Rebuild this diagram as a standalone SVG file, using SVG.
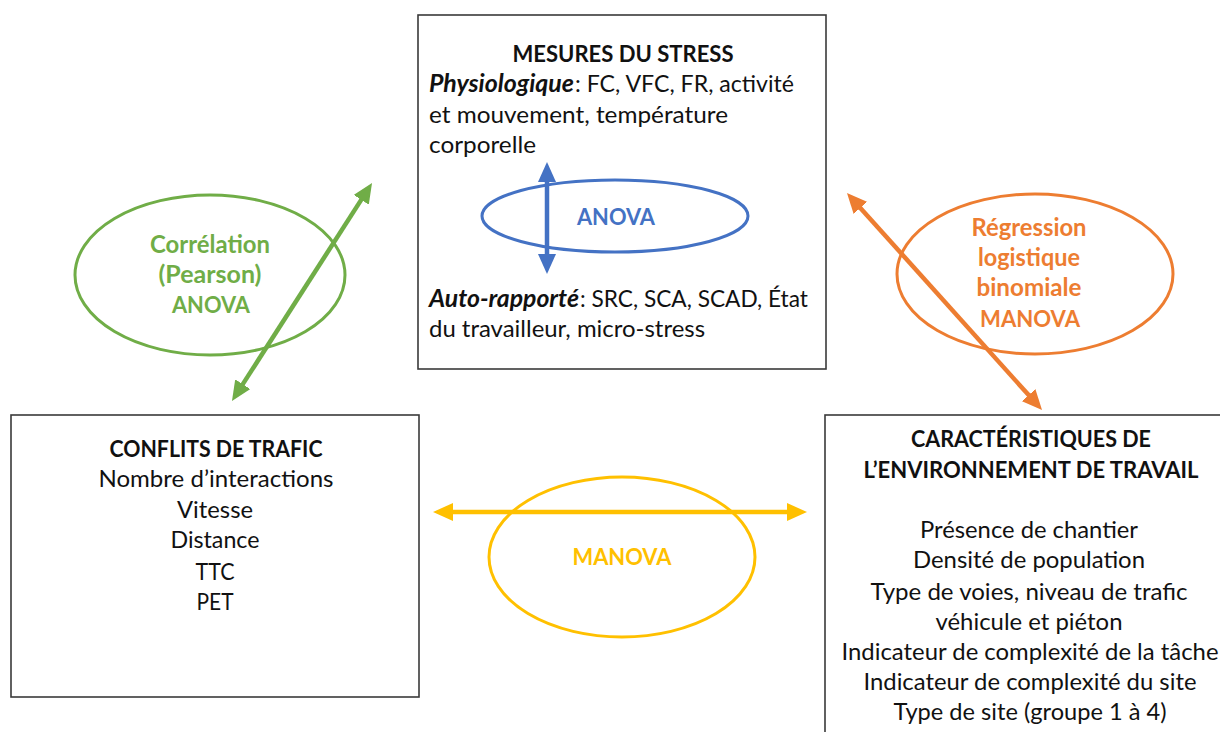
<svg xmlns="http://www.w3.org/2000/svg" width="1220" height="732" viewBox="0 0 1220 732">
  <style>
    text { font-family: Lato, "Open Sans", "Liberation Sans", sans-serif; font-size: 23.5px; fill: #111; }
    .c { text-anchor: middle; }
    .b { font-weight: bold; font-size: 22px; }
    .bi { font-weight: bold; font-style: italic; font-size: 24px; }
    .box { fill: #fff; stroke: #3a3a3a; stroke-width: 1.6; }
    .ell { fill: none; stroke-width: 3; }
    .arr { fill: none; stroke-width: 4.5; }
    .green { stroke: #70AD47; }
    .orange { stroke: #ED7D31; }
    .yellow { stroke: #FFC000; }
    .blue { stroke: #4472C4; }
    .tg { fill: #70AD47; font-weight: bold; font-size: 24px; }
    .to { fill: #ED7D31; font-weight: bold; font-size: 24px; }
    .ty { fill: #FFC000; font-weight: bold; font-size: 22px; }
    .tb { fill: #4472C4; font-weight: bold; font-size: 22px; }
    .caps { font-size: 22px; }
  </style>
  <defs>
    <marker id="hGreen" viewBox="0 0 20 18" refX="2" refY="9" markerWidth="20" markerHeight="18" markerUnits="userSpaceOnUse" orient="auto-start-reverse">
      <path d="M0,0 L20,9 L0,18 z" fill="#70AD47"/>
    </marker>
    <marker id="hOrange" viewBox="0 0 20 18" refX="2" refY="9" markerWidth="20" markerHeight="18" markerUnits="userSpaceOnUse" orient="auto-start-reverse">
      <path d="M0,0 L20,9 L0,18 z" fill="#ED7D31"/>
    </marker>
    <marker id="hYellow" viewBox="0 0 20 18" refX="2" refY="9" markerWidth="20" markerHeight="18" markerUnits="userSpaceOnUse" orient="auto-start-reverse">
      <path d="M0,0 L20,9 L0,18 z" fill="#FFC000"/>
    </marker>
    <marker id="hBlue" viewBox="0 0 20 18" refX="2" refY="9" markerWidth="20" markerHeight="18" markerUnits="userSpaceOnUse" orient="auto-start-reverse">
      <path d="M0,0 L20,9 L0,18 z" fill="#4472C4"/>
    </marker>
  </defs>

  <rect width="1220" height="732" fill="#fff"/>

  <!-- Stress measures -->
  <g id="node-stress">
    <rect class="box" x="418" y="15" width="408" height="354"/>
    <text class="c b" x="623" y="62" textLength="221" lengthAdjust="spacingAndGlyphs">MESURES DU STRESS</text>
    <text class="bi" x="429" y="92" textLength="145" lengthAdjust="spacingAndGlyphs">Physiologique</text>
    <text x="575" y="92" textLength="219" lengthAdjust="spacingAndGlyphs">: FC, VFC, FR, activité</text>
    <text x="429" y="123" textLength="299" lengthAdjust="spacingAndGlyphs">et mouvement, température</text>
    <text x="429" y="153" textLength="107" lengthAdjust="spacingAndGlyphs">corporelle</text>
    <text class="bi" x="429" y="307" textLength="150" lengthAdjust="spacingAndGlyphs">Auto-rapporté</text>
    <text x="580" y="307" textLength="228" lengthAdjust="spacingAndGlyphs">: SRC, SCA, SCAD, État</text>
    <text x="429" y="337" textLength="276" lengthAdjust="spacingAndGlyphs">du travailleur, micro-stress</text>
  </g>

  <!-- Traffic conflicts -->
  <g id="node-conflits">
    <rect class="box" x="11" y="415" width="408" height="282"/>
    <text class="c b" x="216" y="457" textLength="213" lengthAdjust="spacingAndGlyphs">CONFLITS DE TRAFIC</text>
    <text class="c" x="216" y="487" textLength="235" lengthAdjust="spacingAndGlyphs">Nombre d’interactions</text>
    <text class="c" x="215" y="518" textLength="76" lengthAdjust="spacingAndGlyphs">Vitesse</text>
    <text class="c" x="215" y="548" textLength="89" lengthAdjust="spacingAndGlyphs">Distance</text>
    <text class="c" x="215" y="580" textLength="39" lengthAdjust="spacingAndGlyphs">TTC</text>
    <text class="c" x="215" y="610" textLength="37" lengthAdjust="spacingAndGlyphs">PET</text>
  </g>

  <!-- Work environment -->
  <g id="node-environnement">
    <rect class="box" x="825" y="415" width="420" height="340"/>
    <text class="c b" x="1031" y="447" textLength="240" lengthAdjust="spacingAndGlyphs">CARACTÉRISTIQUES DE</text>
    <text class="c b" x="1031" y="478" textLength="335" lengthAdjust="spacingAndGlyphs">L’ENVIRONNEMENT DE TRAVAIL</text>
    <text class="c" x="1029" y="538" textLength="218" lengthAdjust="spacingAndGlyphs">Présence de chantier</text>
    <text class="c" x="1029" y="568" textLength="232" lengthAdjust="spacingAndGlyphs">Densité de population</text>
    <text class="c" x="1029" y="600" textLength="317" lengthAdjust="spacingAndGlyphs">Type de voies, niveau de trafic</text>
    <text class="c" x="1029" y="630" textLength="187" lengthAdjust="spacingAndGlyphs">véhicule et piéton</text>
    <text class="c" x="1030" y="660" textLength="377" lengthAdjust="spacingAndGlyphs">Indicateur de complexité de la tâche</text>
    <text class="c" x="1030" y="690" textLength="333" lengthAdjust="spacingAndGlyphs">Indicateur de complexité du site</text>
    <text class="c" x="1030" y="720" textLength="273" lengthAdjust="spacingAndGlyphs">Type de site (groupe 1 à 4)</text>
  </g>

  <!-- Statistical methods -->
  <g id="node-anova">
    <ellipse class="ell blue" cx="615" cy="216" rx="133" ry="36"/>
    <text class="c tb" x="616" y="225" textLength="78" lengthAdjust="spacingAndGlyphs">ANOVA</text>
  </g>
  <g id="node-correlation">
    <ellipse class="ell green" cx="210" cy="275" rx="135" ry="80"/>
    <text class="c tg" x="210" y="253" textLength="120" lengthAdjust="spacingAndGlyphs">Corrélation</text>
    <text class="c tg" x="210" y="283" textLength="103" lengthAdjust="spacingAndGlyphs">(Pearson)</text>
    <text class="c tg caps" x="211" y="313" textLength="78" lengthAdjust="spacingAndGlyphs">ANOVA</text>
  </g>
  <g id="node-regression">
    <ellipse class="ell orange" cx="1035" cy="274" rx="138" ry="80"/>
    <text class="c to" x="1029" y="236" textLength="115" lengthAdjust="spacingAndGlyphs">Régression</text>
    <text class="c to" x="1029" y="266" textLength="102" lengthAdjust="spacingAndGlyphs">logistique</text>
    <text class="c to" x="1029" y="296" textLength="105" lengthAdjust="spacingAndGlyphs">binomiale</text>
    <text class="c to caps" x="1030" y="327" textLength="100" lengthAdjust="spacingAndGlyphs">MANOVA</text>
  </g>
  <g id="node-manova">
    <ellipse class="ell yellow" cx="622" cy="557" rx="133" ry="80"/>
    <text class="c ty" x="622" y="565" textLength="99" lengthAdjust="spacingAndGlyphs">MANOVA</text>
  </g>

  <!-- Double-headed connectors -->
  <g id="connectors">
    <line class="arr blue" x1="547" y1="180" x2="547" y2="256" marker-start="url(#hBlue)" marker-end="url(#hBlue)"/>
    <line class="arr green" x1="241.7" y1="385.9" x2="362.3" y2="198.1" marker-start="url(#hGreen)" marker-end="url(#hGreen)"/>
    <line class="arr orange" x1="859" y1="206.4" x2="1030" y2="396.6" marker-start="url(#hOrange)" marker-end="url(#hOrange)"/>
    <line class="arr yellow" x1="451" y1="512" x2="789" y2="512" marker-start="url(#hYellow)" marker-end="url(#hYellow)"/>
  </g>
</svg>
